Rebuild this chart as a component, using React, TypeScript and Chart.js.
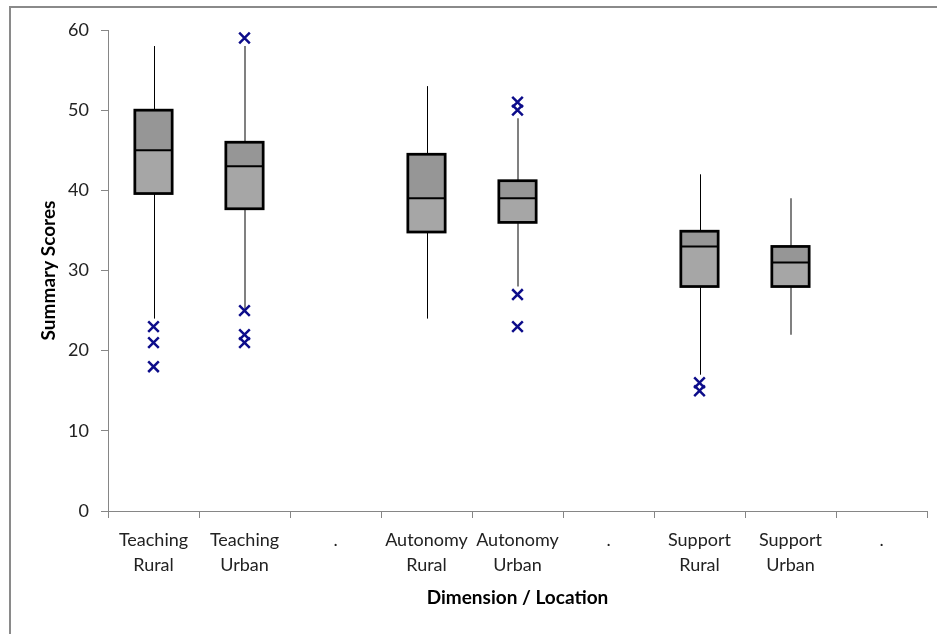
import React, { useEffect, useRef } from "react";
import { Chart, registerables } from "chart.js";

Chart.register(...registerables);

const categories: (string | string[])[] = [
  ["Teaching", "Rural"],
  ["Teaching", "Urban"],
  ".",
  ["Autonomy", "Rural"],
  ["Autonomy", "Urban"],
  ".",
  ["Support", "Rural"],
  ["Support", "Urban"],
  ".",
];
const whiskerLow = [24, 25, null, 24, 28, null, 17, 22, null];
const q1 = [39.6, 37.7, null, 34.8, 36, null, 28, 28, null];
const median = [45, 43, null, 39, 39, null, 33, 31, null];
const q3 = [50, 46, null, 44.5, 41.2, null, 34.9, 33, null];
const whiskerHigh = [58, 58, null, 53, 49, null, 42, 39, null];
const outliers: number[][] = [
  [23, 21, 18],
  [59, 25, 22, 21],
  [],
  [],
  [51, 50, 27, 23],
  [],
  [16, 15],
  [],
  [],
];
const yTicks = [0, 10, 20, 30, 40, 50, 60];

const FONT = "Lato, 'Open Sans', sans-serif";

export default function App() {
  const ref = useRef<HTMLCanvasElement>(null);

  useEffect(() => {
    document.body.style.margin = "0";
    const canvas = ref.current;
    if (!canvas) return;

    const isUrban = (i: number) => {
      const c = categories[i];
      return Array.isArray(c) && c[1] === "Urban";
    };

    const whiskerPlugin = {
      id: "whiskers",
      beforeDatasetsDraw(chart: any) {
        const { ctx, scales } = chart;
        const xs = scales.x;
        const ys = scales.y;
        ctx.save();
        whiskerLow.forEach((lo, i) => {
          const hi = whiskerHigh[i];
          if (lo == null || hi == null) return;
          const x = Math.round(xs.getPixelForValue(i)) + (isUrban(i) ? 0 : 0.5);
          ctx.beginPath();
          ctx.strokeStyle = isUrban(i) ? "#808080" : "#000000";
          ctx.lineWidth = isUrban(i) ? 2 : 1;
          ctx.moveTo(x, ys.getPixelForValue(lo));
          ctx.lineTo(x, ys.getPixelForValue(hi));
          ctx.stroke();
        });
        ctx.restore();
      },
      afterDatasetsDraw(chart: any) {
        const { ctx } = chart;
        const upper = chart.getDatasetMeta(1);
        const lower = chart.getDatasetMeta(2);
        ctx.save();
        ctx.strokeStyle = "#000000";
        median.forEach((m, i) => {
          if (m == null) return;
          const u = upper.data[i];
          const l = lower.data[i];
          if (!u || !l) return;
          const half = u.width / 2;
          const left = u.x - half;
          const right = u.x + half;
          const top = Math.min(u.y, u.base);
          const bottom = Math.max(l.y, l.base);
          const mid = Math.max(u.y, u.base);
          ctx.lineWidth = 2.75;
          ctx.strokeRect(left, top, right - left, bottom - top);
          ctx.lineWidth = 2;
          ctx.beginPath();
          ctx.moveTo(left, mid);
          ctx.lineTo(right, mid);
          ctx.stroke();
        });
        ctx.restore();
      },
    };

    const outlierPoints: { x: number; y: number }[] = [];
    outliers.forEach((arr, i) => arr.forEach((v) => outlierPoints.push({ x: i, y: v })));

    const chart = new Chart(canvas, {
      type: "bar",
      data: {
        labels: categories as any,
        datasets: [
          {
            type: "line",
            label: "Outliers",
            data: outlierPoints as any,
            showLine: false,
            pointStyle: "crossRot",
            pointRadius: 7.5,
            pointBorderWidth: 2.5,
            pointBorderColor: "#0c0c8a",
            pointBackgroundColor: "#0c0c8a",
            parsing: false as any,
          } as any,
          {
            label: "Q3",
            data: median.map((m, i) => (m == null ? null : [m, q3[i] as number])) as any,
            backgroundColor: "#969696",
            borderWidth: 0,
            grouped: false,
            categoryPercentage: 1,
            barPercentage: 0.41,
          } as any,
          {
            label: "Q1",
            data: median.map((m, i) => (m == null ? null : [q1[i] as number, m])) as any,
            backgroundColor: "#a6a6a6",
            borderWidth: 0,
            grouped: false,
            categoryPercentage: 1,
            barPercentage: 0.41,
          } as any,
        ],
      },
      options: {
        animation: false,
        responsive: false,
        maintainAspectRatio: false,
        devicePixelRatio: 1,
        layout: { padding: { left: 0, top: 30, right: 10, bottom: 0 } },
        plugins: {
          legend: { display: false },
          tooltip: { enabled: false },
        },
        scales: {
          x: {
            type: "category",
            offset: true,
            grid: {
              display: true,
              drawOnChartArea: false,
              drawTicks: true,
              tickLength: 7,
              color: "#868686",
              offset: true,
            },
            border: { display: true, color: "#868686", width: 1 },
            ticks: {
              autoSkip: false,
              maxRotation: 0,
              minRotation: 0,
              padding: 9,
              color: "#222222",
              font: { family: FONT, size: 18, lineHeight: 1.42 },
            },
            title: {
              display: true,
              text: "Dimension / Location",
              color: "#000000",
              font: { family: FONT, size: 19, weight: "bold", lineHeight: 1.2 },
              padding: { top: 0, bottom: 25 },
            },
            afterFit: (s: any) => {
              s.height = 123;
            },
          },
          y: {
            min: yTicks[0],
            max: yTicks[yTicks.length - 1],
            afterBuildTicks: (s: any) => {
              s.ticks = yTicks.map((v) => ({ value: v }));
            },
            grid: {
              display: true,
              drawOnChartArea: false,
              drawTicks: true,
              tickLength: 7,
              color: "#868686",
            },
            border: { display: true, color: "#868686", width: 1 },
            ticks: {
              padding: 12,
              color: "#222222",
              font: { family: FONT, size: 18 },
            },
            title: {
              display: true,
              text: "Summary Scores",
              color: "#000000",
              font: { family: FONT, size: 19, weight: "bold", lineHeight: 1.2 },
              padding: { top: 37, bottom: 0 },
            },
            afterFit: (s: any) => {
              s.width = 108;
            },
          },
        },
      } as any,
      plugins: [whiskerPlugin],
    });

    return () => chart.destroy();
  }, []);

  return (
    <div style={{ position: "relative", width: 937, height: 634, background: "#ffffff", overflow: "hidden" }}>
      <canvas ref={ref} width={937} height={634} style={{ position: "absolute", left: 0, top: 0, width: 937, height: 634 }} />
      <div
        style={{
          position: "absolute",
          left: 9,
          top: 6,
          width: 960,
          height: 660,
          borderLeft: "2px solid #8a8a8a",
          borderTop: "2px solid #8a8a8a",
          pointerEvents: "none",
        }}
      />
    </div>
  );
}
